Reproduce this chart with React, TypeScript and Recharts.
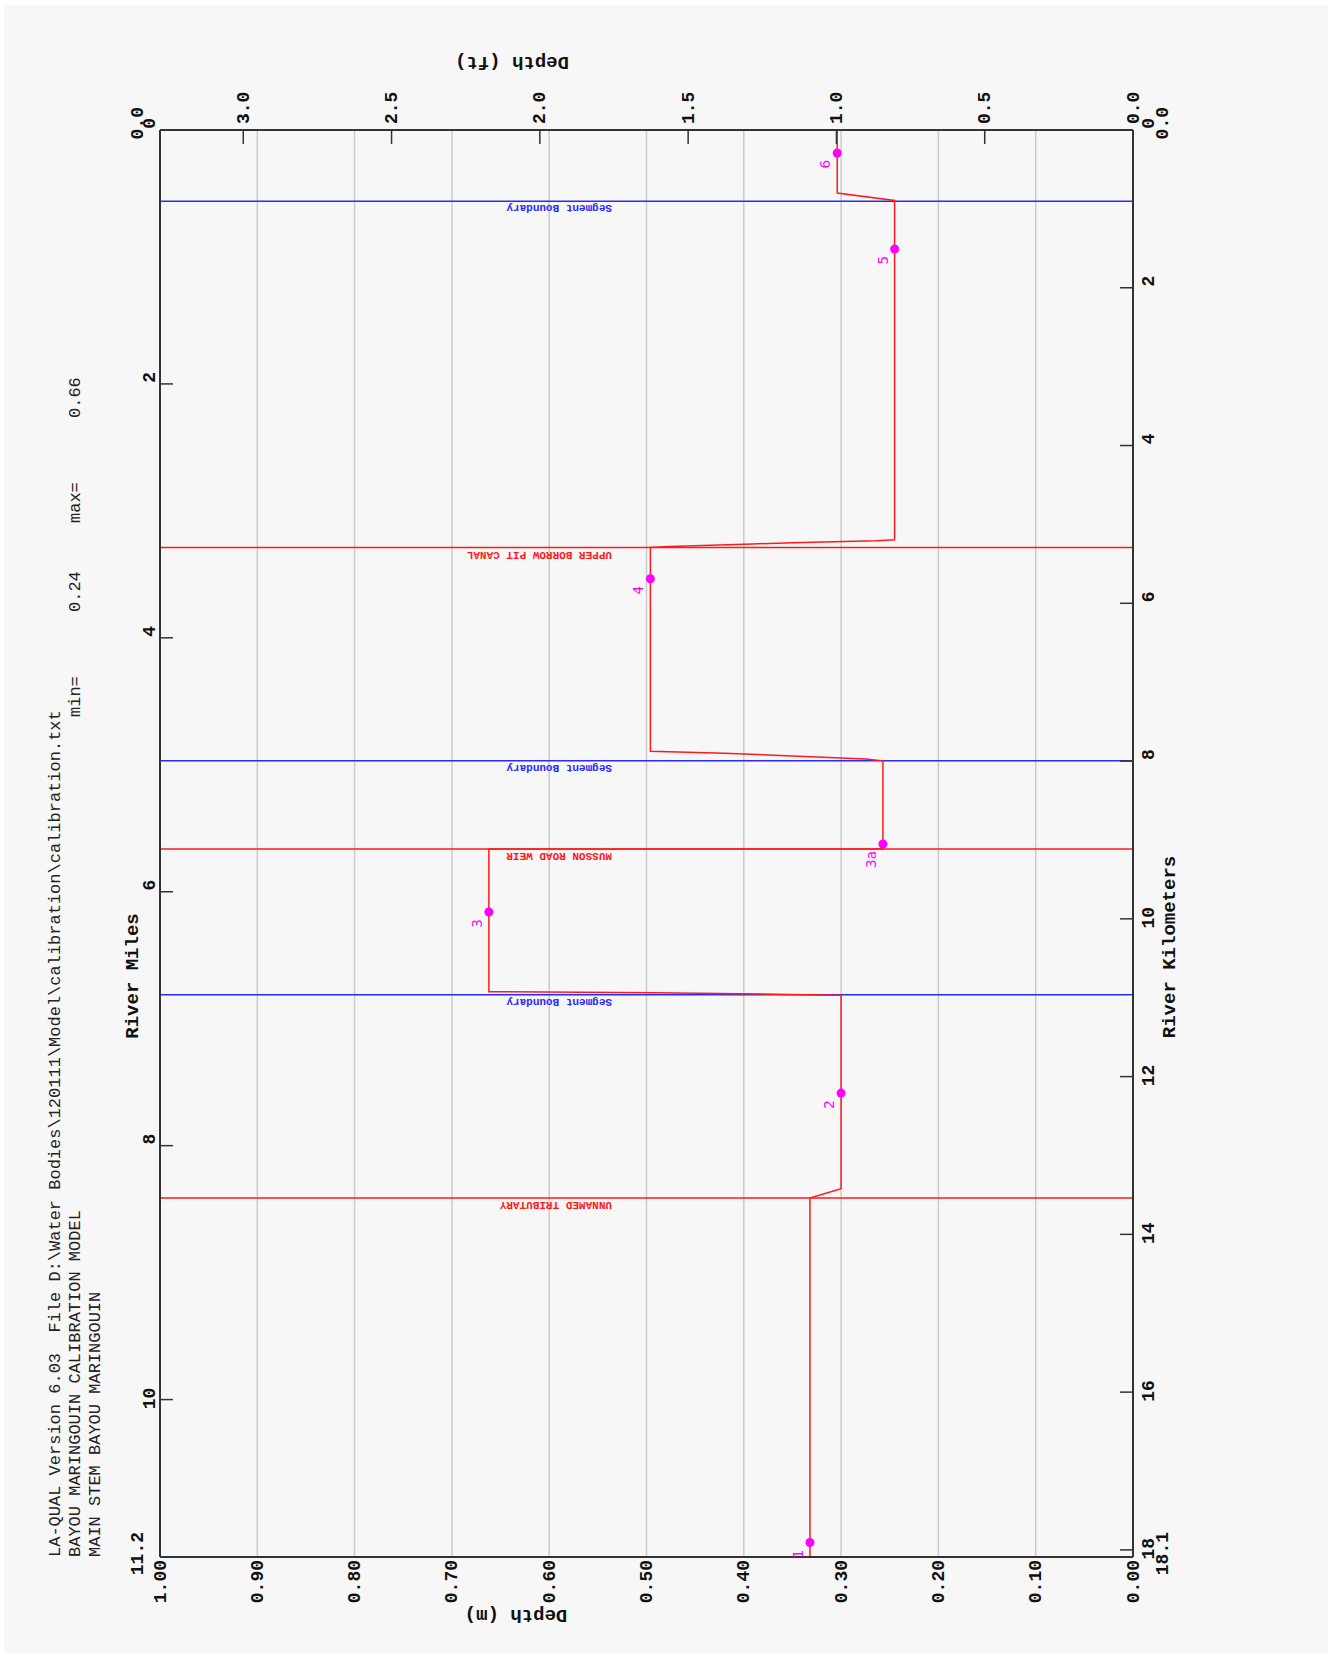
import React from "react";
import { ComposedChart, Line, Scatter, XAxis, YAxis, CartesianGrid, ReferenceLine } from "recharts";

// Landscape chart, turned a quarter turn on the page
const CHART_W = 1655;
const CHART_H = 1333;

const MILE_MAX = 11.24;
const KM_MAX = 18.09;
const FT_MAX = 3.2808;

// Simulated depth profile along the river (river mile, depth in m)
const profileMiles = [
  0.0, 0.496, 0.555, 3.228, 3.236, 3.244, 3.252, 3.26, 3.27, 3.28, 3.289,
  4.894, 4.91, 4.93, 4.955, 4.969, 5.664, 5.664, 6.787, 6.795, 6.803, 6.811, 6.815,
  8.339, 8.412, 11.24,
];
const profileDepth = [
  0.304, 0.304, 0.245, 0.245, 0.264, 0.307, 0.349, 0.391, 0.434, 0.476, 0.496,
  0.496, 0.42, 0.35, 0.275, 0.257, 0.257, 0.662, 0.662, 0.492, 0.405, 0.337, 0.3,
  0.3, 0.332, 0.332,
];

// Observed depths by station
const obsLabels = ["1", "2", "3", "3a", "4", "5", "6"];
const obsMiles = [11.126, 7.586, 6.16, 5.624, 3.535, 0.937, 0.181];
const obsDepth = [0.332, 0.3, 0.662, 0.257, 0.496, 0.245, 0.304];

// Segment boundaries and named features
const boundaryMiles = [0.561, 4.969, 6.811];
const featureMiles = [3.289, 5.664, 8.412];
const featureNames = ["UPPER BORROW PIT CANAL", "MUSSON ROAD WEIR", "UNNAMED TRIBUTARY"];

// Axis ticks
const mileTicks = [0, 2, 4, 6, 8, 10, 11.24];
const mileTickLabels = ["0", "2", "4", "6", "8", "10", "11.2"];
const kmTicks = [0, 2, 4, 6, 8, 10, 12, 14, 16, 18, 18.09];
const kmTickLabels = ["0", "2", "4", "6", "8", "10", "12", "14", "16", "18", "18.1"];
const depthTicks = [0, 0.1, 0.2, 0.3, 0.4, 0.5, 0.6, 0.7, 0.8, 0.9, 1.0];
const depthTickLabels = ["0.00", "0.10", "0.20", "0.30", "0.40", "0.50", "0.60", "0.70", "0.80", "0.90", "1.00"];
const ftTicks = [0, 0.5, 1.0, 1.5, 2.0, 2.5, 3.0];
const ftTickLabels = ["0.0", "0.5", "1.0", "1.5", "2.0", "2.5", "3.0"];

const titleLines = [
  "LA-QUAL Version 6.03  File D:\\Water Bodies\\120111\\Model\\calibration\\calibration.txt",
  "BAYOU MARINGOUIN CALIBRATION MODEL",
  "MAIN STEM BAYOU MARINGOUIN",
];
const minLabel = "0.24";
const maxLabel = "0.66";

const profileData = profileMiles.map((m, i) => ({ mile: m, depth: profileDepth[i] }));
const obsData = obsMiles.map((m, i) => ({ mile: m, depth: obsDepth[i], label: obsLabels[i] }));

const MONO = "'Liberation Mono', 'Courier New', monospace";
const tickText = { fontFamily: MONO, fontSize: 18, fontWeight: 700, fill: "#111" };
const AXIS = "#333";

const MileTick = (props: any) => {
  const { x, y, payload } = props;
  const i = mileTicks.indexOf(payload.value);
  const label = mileTickLabels[i];
  if (payload.value === MILE_MAX) {
    return <text x={x + 25} y={y - 17} textAnchor="end" {...tickText}>{label}</text>;
  }
  return (
    <g>
      {payload.value > 0 && <line x1={x} x2={x} y1={y} y2={y + 13} stroke={AXIS} strokeWidth={1.5} />}
      <text x={x + 12} y={y - 5} textAnchor="end" {...tickText}>{label}</text>
      {payload.value === 0 && <text x={x + 23} y={y - 17} textAnchor="end" {...tickText}>0.0</text>}
    </g>
  );
};

const KmTick = (props: any) => {
  const { x, y, payload } = props;
  const i = kmTicks.indexOf(payload.value);
  const label = kmTickLabels[i];
  if (payload.value === KM_MAX) {
    return <text x={x + 25} y={y + 35} textAnchor="end" {...tickText}>{label}</text>;
  }
  return (
    <g>
      {payload.value > 0 && <line x1={x} x2={x} y1={y} y2={y - 13} stroke={AXIS} strokeWidth={1.5} />}
      <text x={x + 12} y={y + 21} textAnchor="end" {...tickText}>{label}</text>
      {payload.value === 0 && <text x={x + 23} y={y + 35} textAnchor="end" {...tickText}>0.0</text>}
    </g>
  );
};

const DepthTick = (props: any) => {
  const { x, y, payload } = props;
  const label = depthTickLabels[depthTicks.indexOf(payload.value)];
  return <text x={x - 3} y={y + 5.5} textAnchor="end" {...tickText}>{label}</text>;
};

const FtTick = (props: any) => {
  const { x, y, payload } = props;
  const label = ftTickLabels[ftTicks.indexOf(payload.value)];
  return (
    <g>
      {payload.value > 0 && <line x1={x} x2={x - 14} y1={y} y2={y} stroke={AXIS} strokeWidth={1.5} />}
      <text x={x + 6} y={y + 5.5} textAnchor="start" {...tickText}>{label}</text>
    </g>
  );
};

const refLabel = (text: string, color: string) => (props: any) => {
  const { viewBox } = props;
  const x = viewBox.x - 4;
  const y = viewBox.y + 452;
  return (
    <text
      x={x}
      y={y}
      transform={`rotate(-90 ${x} ${y})`}
      fill={color}
      fontFamily={MONO}
      fontSize={11}
      fontWeight={700}
    >
      {text}
    </text>
  );
};

const ObsMarker = (props: any) => {
  const { cx, cy, payload } = props;
  return (
    <g>
      <circle cx={cx} cy={cy} r={4.5} fill="#ff00ff" />
      <text x={cx - 7} y={cy - 7} textAnchor="end" fill="#ff00ff" fontFamily="'DejaVu Sans', sans-serif" fontSize={13.5}>
        {payload.label}
      </text>
    </g>
  );
};

const Overlay = () => (
  <svg width={CHART_W} height={CHART_H} style={{ position: "absolute", left: 0, top: 0, pointerEvents: "none" }}>
    {titleLines.map((t, i) => (
      <text key={i} x={98} y={60 + i * 20} fontFamily={MONO} fontSize={17} fill="#222" style={{ whiteSpace: "pre" }}>
        {t}
      </text>
    ))}
    <text x={938} y={80} fontFamily={MONO} fontSize={17} fill="#222">min=</text>
    <text x={1043} y={80} fontFamily={MONO} fontSize={17} fill="#222">{minLabel}</text>
    <text x={1132} y={80} fontFamily={MONO} fontSize={17} fill="#222">max=</text>
    <text x={1237} y={80} fontFamily={MONO} fontSize={17} fill="#222">{maxLabel}</text>

    <text x={679} y={138} textAnchor="middle" fontFamily={MONO} fontSize={19} fontWeight={700} fill="#111">River Miles</text>
    <text x={708} y={1175} textAnchor="middle" fontFamily={MONO} fontSize={19} fontWeight={700} fill="#111">River Kilometers</text>
    <text x={40} y={516} transform="rotate(-90 40 516)" textAnchor="middle" dominantBaseline="central" fontFamily={MONO} fontSize={19} fontWeight={700} fill="#111">Depth (m)</text>
    <text x={1593} y={512} transform="rotate(-90 1593 512)" textAnchor="middle" dominantBaseline="central" fontFamily={MONO} fontSize={19} fontWeight={700} fill="#111">Depth (ft)</text>
  </svg>
);

const DepthProfile = () => (
  <div style={{ position: "relative", width: CHART_W, height: CHART_H }}>
    <ComposedChart width={CHART_W} height={CHART_H} margin={{ top: 120, right: 70, bottom: 160, left: 38 }}>
      <CartesianGrid vertical={false} xAxisId="mi" yAxisId="m" stroke="#cbcbcb" strokeWidth={1.5} />
      <XAxis
        xAxisId="mi"
        type="number"
        dataKey="mile"
        orientation="top"
        domain={[0, MILE_MAX]}
        reversed
        allowDataOverflow
        ticks={mileTicks}
        interval={0}
        tickSize={0}
        tickMargin={0}
        tick={<MileTick />}
        axisLine={{ stroke: AXIS, strokeWidth: 2 }}
        height={40}
      />
      <XAxis
        xAxisId="km"
        type="number"
        dataKey="km"
        orientation="bottom"
        domain={[0, KM_MAX]}
        reversed
        allowDataOverflow
        ticks={kmTicks}
        interval={0}
        tickSize={0}
        tickMargin={0}
        tick={<KmTick />}
        axisLine={{ stroke: AXIS, strokeWidth: 2 }}
        height={40}
      />
      <YAxis
        yAxisId="m"
        type="number"
        orientation="left"
        domain={[0, 1]}
        allowDataOverflow
        ticks={depthTicks}
        interval={0}
        tickSize={0}
        tickMargin={0}
        tick={<DepthTick />}
        axisLine={{ stroke: AXIS, strokeWidth: 2 }}
        width={60}
      />
      <YAxis
        yAxisId="ft"
        type="number"
        orientation="right"
        domain={[0, FT_MAX]}
        allowDataOverflow
        ticks={ftTicks}
        interval={0}
        tickSize={0}
        tickMargin={0}
        tick={<FtTick />}
        axisLine={{ stroke: AXIS, strokeWidth: 2 }}
        width={60}
      />
      {boundaryMiles.map((m) => (
        <ReferenceLine
          key={`b-${m}`}
          x={m}
          xAxisId="mi"
          yAxisId="m"
          stroke="#2a2aff"
          strokeWidth={1.5}
          label={refLabel("Segment Boundary", "#2a2aff")}
        />
      ))}
      {featureMiles.map((m, i) => (
        <ReferenceLine
          key={`f-${m}`}
          x={m}
          xAxisId="mi"
          yAxisId="m"
          stroke="#ff1a1a"
          strokeWidth={1.5}
          label={refLabel(featureNames[i], "#ff1a1a")}
        />
      ))}
      <Line
        data={profileData}
        dataKey="depth"
        xAxisId="mi"
        yAxisId="m"
        type="linear"
        stroke="#ff1a1a"
        strokeWidth={1.5}
        dot={false}
        activeDot={false}
        isAnimationActive={false}
      />
      <Scatter
        data={obsData}
        dataKey="depth"
        xAxisId="mi"
        yAxisId="m"
        shape={<ObsMarker />}
        isAnimationActive={false}
      />
    </ComposedChart>
    <Overlay />
  </div>
);

export default function App() {
  return (
    <div style={{ position: "absolute", left: 0, top: 0, width: 1333, height: 1655, overflow: "hidden", background: "#fff" }}>
      <div style={{ position: "absolute", left: 4, top: 5, width: 1324, height: 1648, background: "#f7f7f7" }} />
      <div
        style={{
          position: "absolute",
          left: 0,
          top: 0,
          width: CHART_W,
          height: CHART_H,
          transformOrigin: "0 0",
          transform: `translate(0px, ${CHART_W}px) rotate(-90deg)`,
        }}
      >
        <DepthProfile />
      </div>
    </div>
  );
}
